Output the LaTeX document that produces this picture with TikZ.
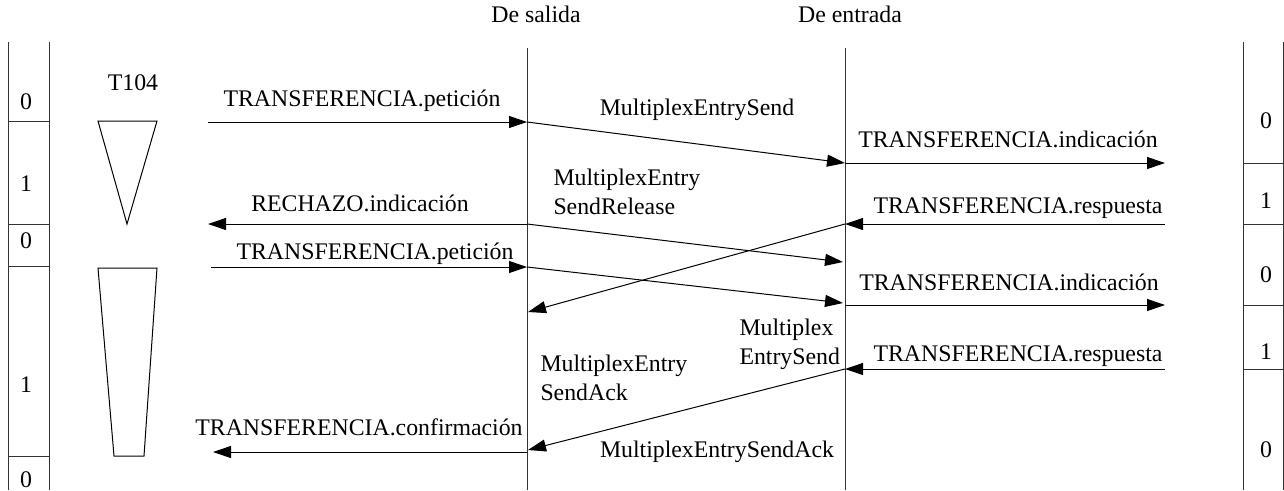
\documentclass[tikz,border=0pt]{standalone}
\usepackage{fontspec}
\setmainfont{Liberation Serif}
\usetikzlibrary{arrows.meta}
\begin{document}
\begin{tikzpicture}[x=1pt,y=-1pt,line width=1pt,
  msg/.style={-{Triangle[length=18pt,width=12pt]}},
  lbl/.style={font=\fontsize{23.8}{29}\selectfont,inner sep=0pt,anchor=base},
  lblw/.style={lbl,anchor=base west,align=left},
  frame/.style={line width=1pt,draw=black!80}]
\useasboundingbox (0,0) rectangle (1284,490);
% headers
\node[lbl] (hs) at (536,22) {De salida};
\node[lbl] (he) at (850,22) {De entrada};
% lifelines
\coordinate (st) at (527,48); \coordinate (sb) at (527,490);
\coordinate (et) at (845,48); \coordinate (eb) at (845,490);
\draw[frame] (st) -- (sb);
\draw[frame] (et) -- (eb);
% left bar
\draw[frame] (8,42) -- (8,490);
\draw[frame] (49,42) -- (49,490);
\foreach \yy in {121,224,266,456} \draw[frame] (8,\yy) -- (49,\yy);
\node[lbl] (l0) at (26,109) {0};
\node[lbl] (l1) at (26,191) {1};
\node[lbl] (l2) at (26,248) {0};
\node[lbl] (l3) at (26,392) {1};
\node[lbl] (l4) at (26,487) {0};
% right bar
\draw[frame] (1243,42) -- (1243,490);
\draw[frame] (1283,42) -- (1283,490);
\foreach \yy in {163,224,305,369} \draw[frame] (1243,\yy) -- (1283,\yy);
\node[lbl] (r0) at (1266,128) {0};
\node[lbl] (r1) at (1266,208) {1};
\node[lbl] (r2) at (1266,282) {0};
\node[lbl] (r3) at (1266,359) {1};
\node[lbl] (r4) at (1266,457) {0};
% T104 timers
\node[lbl] (t104) at (133,90) {T104};
\draw (98,121) -- (157,121) -- (127,224) -- cycle;
\draw (98,268) -- (157,268) -- (144,456) -- (114,456) -- cycle;
% coordinates
\coordinate (p1a) at (208,122); \coordinate (p1b) at (527,122);
\coordinate (m1b) at (845,163); \coordinate (i1b) at (1165,163);
\coordinate (r1a) at (1165,224); \coordinate (r1b) at (845,224);
\coordinate (rja) at (527,224); \coordinate (rjb) at (208,224);
\coordinate (relb) at (843,262);
\coordinate (p2a) at (211,267); \coordinate (p2b) at (527,267);
\coordinate (m2b) at (843,303);
\coordinate (i2a) at (845,305); \coordinate (i2b) at (1165,305);
\coordinate (xb) at (528,312);
\coordinate (r2a) at (1165,369); \coordinate (r2b) at (845,369);
\coordinate (ackb) at (528,450);
\coordinate (ca) at (527,452); \coordinate (cb) at (213,452);
% messages
\draw[msg] (p1a) -- (p1b);
\draw[msg] (p1b) -- (m1b);
\draw[msg] (m1b) -- (i1b);
\draw[msg] (r1a) -- (r1b);
\draw[msg] (rja) -- (rjb);
\draw[msg] (rja) -- (relb);
\draw[msg] (p2a) -- (p2b);
\draw[msg] (p2b) -- (m2b);
\draw[msg] (i2a) -- (i2b);
\draw[msg] (r1b) -- (xb);
\draw[msg] (r2a) -- (r2b);
\draw[msg] (r2b) -- (ackb);
\draw[msg] (ca) -- (cb);
% labels
\node[lbl] (tp1) at (362,106) {TRANSFERENCIA.petición};
\node[lbl] (tm1) at (697,115) {MultiplexEntrySend};
\node[lbl] (ti1) at (1008,147) {TRANSFERENCIA.indicación};
\node[lbl] (tr1) at (1018,213) {TRANSFERENCIA.respuesta};
\node[lbl] (trj) at (360,211) {RECHAZO.indicación};
\node[lblw] (trel) at (553,214) {MultiplexEntry\\SendRelease};
\node[lbl] (tp2) at (375,259) {TRANSFERENCIA.petición};
\node[lbl] (ti2) at (1009,290) {TRANSFERENCIA.indicación};
\node[lblw] (tm2) at (739,364) {Multiplex\\EntrySend};
\node[lbl] (tr2) at (1018,361) {TRANSFERENCIA.respuesta};
\node[lblw] (tack) at (540,400) {MultiplexEntry\\SendAck};
\node[lbl] (tc) at (359,435) {TRANSFERENCIA.confirmación};
\node[lbl] (tack2) at (717,457) {MultiplexEntrySendAck};
\end{tikzpicture}
\end{document}
